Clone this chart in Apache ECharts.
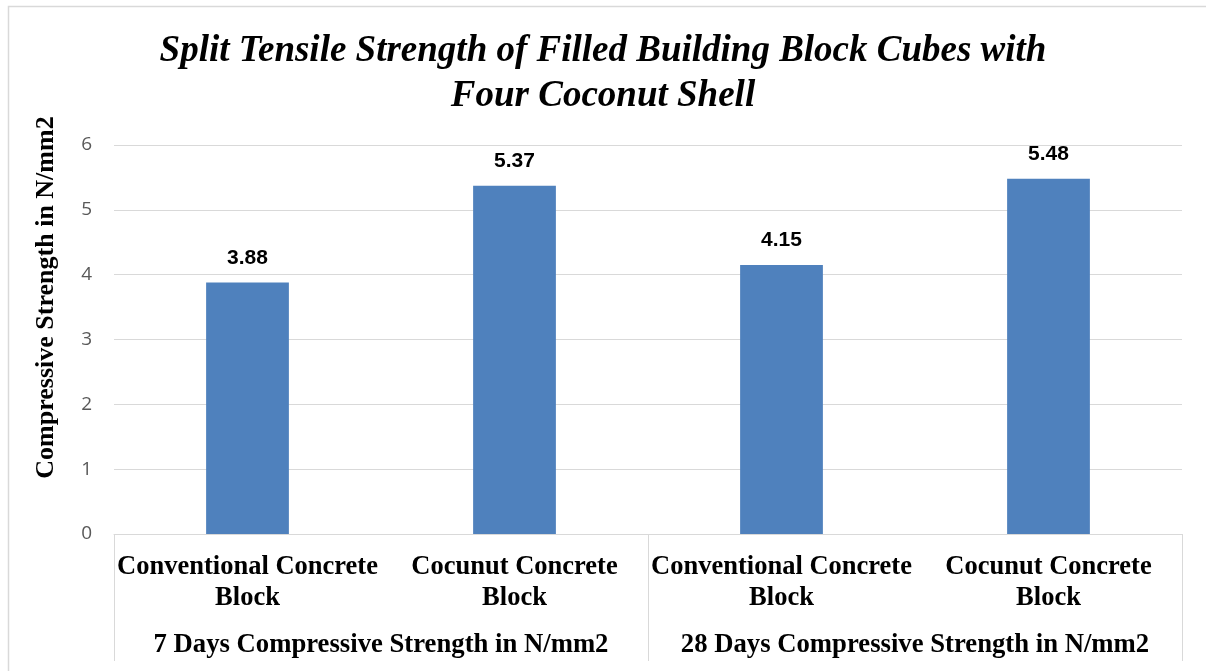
<!DOCTYPE html>
<html>
<head>
<meta charset="utf-8">
<script src="https://cdn.jsdelivr.net/npm/echarts@6/dist/echarts.min.js"></script>
<style>
  html,body{margin:0;padding:0;background:#fff;}
  #main{width:1206px;height:671px;}
</style>
</head>
<body>
<div id="main"></div>
<script>
// data
var blocks = ['Conventional Concrete\nBlock', 'Cocunut Concrete\nBlock', 'Conventional Concrete\nBlock', 'Cocunut Concrete\nBlock'];
var groups = ['7 Days Compressive Strength in N/mm2', '28 Days Compressive Strength in N/mm2'];
var strength = [3.88, 5.37, 4.15, 5.48];

var serif = '"Liberation Serif", "Times New Roman", serif';
var grey = '#d9d9d9';

var chart = echarts.init(document.getElementById('main'));
var option = {
    animation: false,
    backgroundColor: '#fff',
    title: {
        text: 'Split Tensile Strength of Filled Building Block Cubes with\nFour Coconut Shell',
        left: 'center',
        top: 24,
        textStyle: {
            fontFamily: serif,
            fontStyle: 'italic',
            fontWeight: 'bold',
            fontSize: 37,
            lineHeight: 45,
            color: '#000'
        }
    },
    graphic: [{
        type: 'rect',
        shape: {x: 8.5, y: 6.5, width: 1240, height: 720},
        style: {fill: 'none', stroke: grey, lineWidth: 1.5},
        silent: true
    }],
    grid: {left: 114, right: 24, top: 145, bottom: 137},
    xAxis: [{
        type: 'category',
        data: blocks,
        axisLine: {lineStyle: {color: grey, width: 1}},
        axisTick: {show: false},
        axisLabel: {
            interval: 0,
            margin: 18,
            fontFamily: serif,
            fontWeight: 'bold',
            fontSize: 26.5,
            lineHeight: 31,
            color: '#000'
        }
    }, {
        type: 'category',
        data: groups,
        position: 'bottom',
        axisLine: {show: false},
        axisTick: {show: true, length: 127, lineStyle: {color: grey, width: 1}},
        axisLabel: {
            interval: 0,
            margin: 98,
            fontFamily: serif,
            fontWeight: 'bold',
            fontSize: 26.7,
            color: '#000'
        }
    }],
    yAxis: {
        type: 'value',
        min: 0,
        max: 6,
        interval: 1,
        name: 'Compressive Strength in N/mm2',
        nameLocation: 'middle',
        nameGap: 55,
        nameTextStyle: {
            fontFamily: serif,
            fontWeight: 'bold',
            fontSize: 26,
            color: '#000',
            padding: [0, 0, 0, 84]
        },
        axisLine: {show: false},
        axisTick: {show: false},
        axisLabel: {
            margin: 22,
            fontFamily: '"Open Sans", "Liberation Sans", sans-serif',
            fontSize: 19,
            color: '#595959'
        },
        splitLine: {lineStyle: {color: grey, width: 1}}
    },
    series: [{
        type: 'bar',
        data: strength,
        barWidth: '31%',
        itemStyle: {color: '#4f81bd'},
        label: {
            show: true,
            position: 'top',
            distance: 14,
            fontFamily: '"Liberation Sans", Arial, sans-serif',
            fontWeight: 'bold',
            fontSize: 21,
            color: '#000',
            formatter: function (p) { return p.value.toFixed(2); }
        }
    }]
};
chart.setOption(option);
</script>
</body>
</html>
